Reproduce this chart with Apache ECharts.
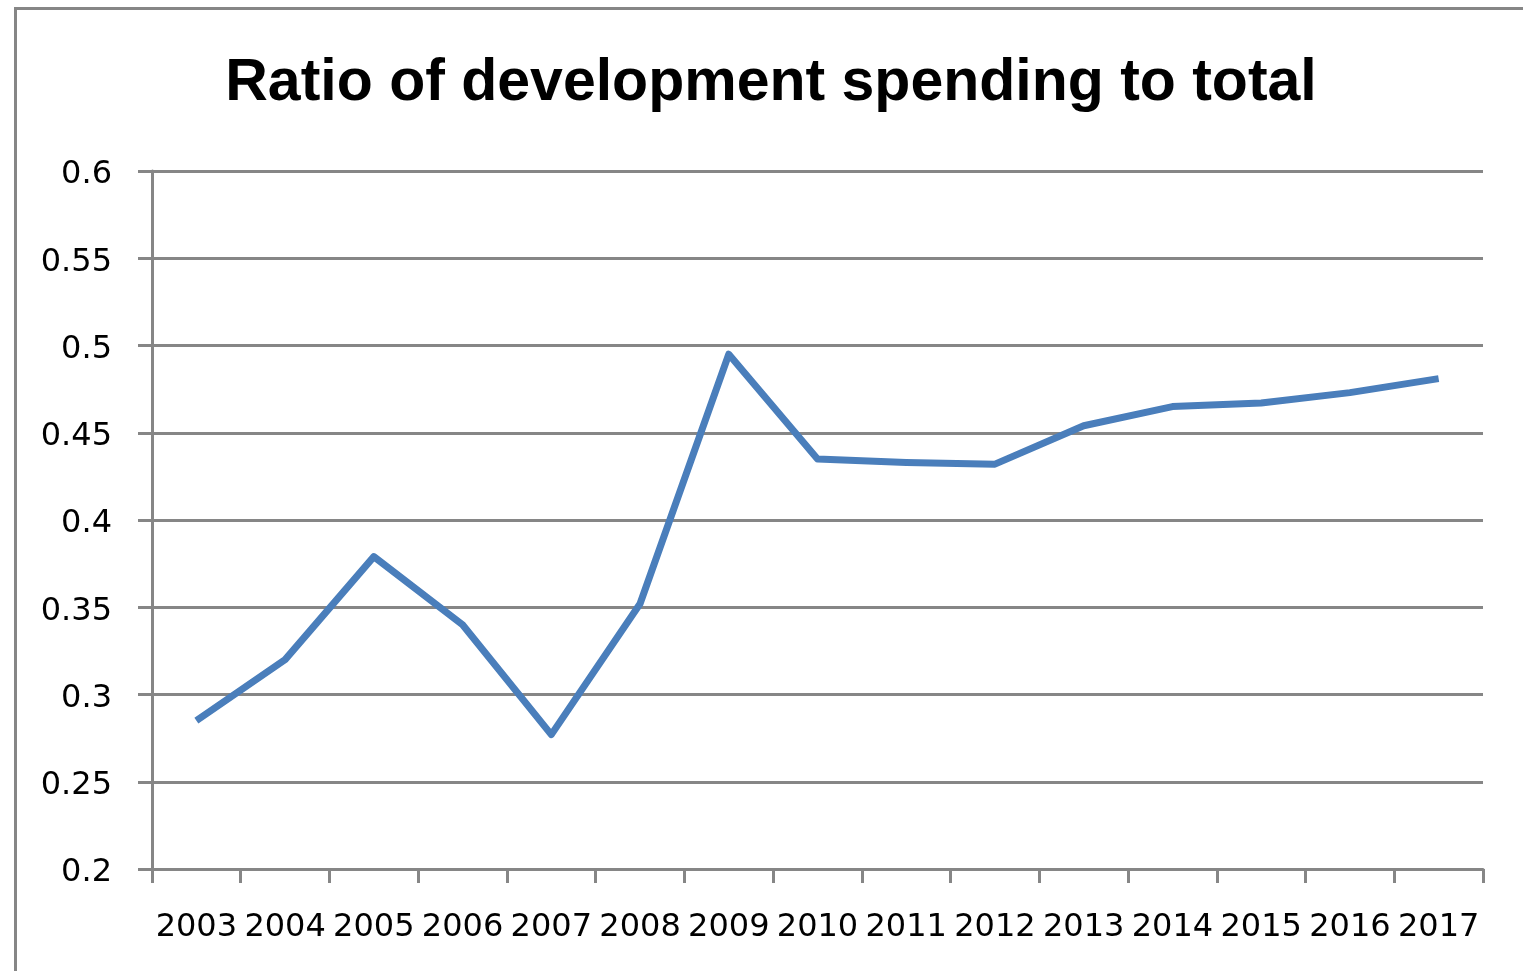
<!DOCTYPE html>
<html>
<head>
<meta charset="utf-8">
<script src="https://cdn.jsdelivr.net/npm/echarts@6/dist/echarts.min.js"></script>
<style>
  html, body { margin: 0; padding: 0; background: #ffffff; }
  #chart { width: 1523px; height: 971px; }
</style>
</head>
<body>
<div id="chart"></div>
<script>
// Share of development spending in total spending, by year
const years = ['2003', '2004', '2005', '2006', '2007', '2008', '2009', '2010',
               '2011', '2012', '2013', '2014', '2015', '2016', '2017'];
const ratio = [0.285, 0.320, 0.379, 0.340, 0.277, 0.352, 0.495, 0.435,
               0.433, 0.432, 0.454, 0.465, 0.467, 0.473, 0.481];
const yTicks = [0.2, 0.25, 0.3, 0.35, 0.4, 0.45, 0.5, 0.55, 0.6];

const gray = '#868686';
const chart = echarts.init(document.getElementById('chart'), null, { renderer: 'canvas' });

chart.setOption({
  animation: false,
  backgroundColor: '#ffffff',
  title: {
    text: 'Ratio of development spending to total',
    left: 766,
    top: 49,
    textAlign: 'center',
    textStyle: {
      fontFamily: 'Liberation Sans',
      fontWeight: 'bold',
      fontSize: 59,
      color: '#000000'
    }
  },
  grid: { left: 152, right: 40, top: 171, bottom: 102 },
  xAxis: {
    type: 'category',
    data: years,
    boundaryGap: true,
    axisLine: { lineStyle: { color: gray, width: 3 } },
    axisTick: { show: true, length: 14, lineStyle: { color: gray, width: 3 }, interval: 0 },
    axisLabel: {
      interval: 0,
      margin: 43,
      color: '#000000',
      fontFamily: 'DejaVu Sans',
      fontSize: 32
    },
    splitLine: { show: false }
  },
  yAxis: {
    type: 'value',
    min: yTicks[0],
    max: yTicks[yTicks.length - 1],
    interval: 0.05,
    axisLine: { show: true, lineStyle: { color: gray, width: 3 } },
    axisTick: { show: true, length: 14, lineStyle: { color: gray, width: 3 } },
    axisLabel: {
      margin: 40,
      color: '#000000',
      fontFamily: 'DejaVu Sans',
      fontSize: 32,
      formatter: v => '{v|' + String(+v.toFixed(2)) + '}',
      rich: {
        v: {
          color: '#000000',
          fontFamily: 'DejaVu Sans',
          fontSize: 32,
          padding: [8, 0, 0, 0]
        }
      }
    },
    splitLine: { show: true, lineStyle: { color: gray, width: 3 } }
  },
  series: [{
    type: 'line',
    data: ratio,
    symbol: 'none',
    lineStyle: { color: '#4a7ebb', width: 7, join: 'round' },
    itemStyle: { color: '#4a7ebb' }
  }],
  graphic: [{
    type: 'rect',
    left: 13,
    top: 6,
    shape: { x: 0, y: 0, width: 1540, height: 1000 },
    style: { fill: 'none', stroke: gray, lineWidth: 3 },
    silent: true,
    z: 100
  }]
});
</script>
</body>
</html>
